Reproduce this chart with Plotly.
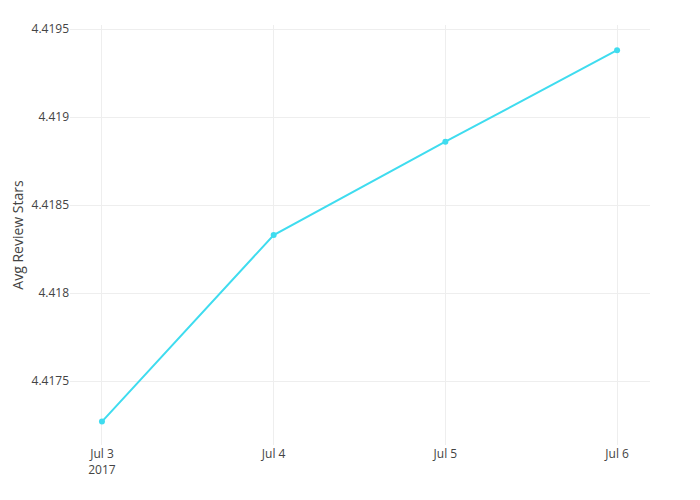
import plotly.graph_objects as go

dates = ["2017-07-03", "2017-07-04", "2017-07-05", "2017-07-06"]
avg_stars = [4.41727, 4.41833, 4.41886, 4.41938]

fig = go.Figure()
fig.add_trace(go.Scatter(
    x=dates,
    y=avg_stars,
    mode="lines+markers",
    line=dict(color="#3fdcef", width=2),
    marker=dict(color="#3fdcef", size=6),
))

fig.update_layout(
    width=700,
    height=500,
    margin=dict(l=62, r=58, t=17, b=63),
    paper_bgcolor="white",
    plot_bgcolor="white",
    font=dict(family="Open Sans", size=12, color="#444"),
    showlegend=False,
    xaxis=dict(
        range=["2017-07-02 19:32", "2017-07-06 04:36"],
        showgrid=True,
        gridcolor="#eee",
        zeroline=False,
        tickformat="%b %-d\n%Y",
        dtick=86400000,
        automargin=False,
    ),
    yaxis=dict(
        title=dict(text="Avg Review Stars", standoff=10),
        range=[4.417137, 4.419523],
        showgrid=True,
        gridcolor="#eee",
        zeroline=False,
        dtick=0.0005,
        automargin=False,
    ),
)

fig.write_html("out.html")
